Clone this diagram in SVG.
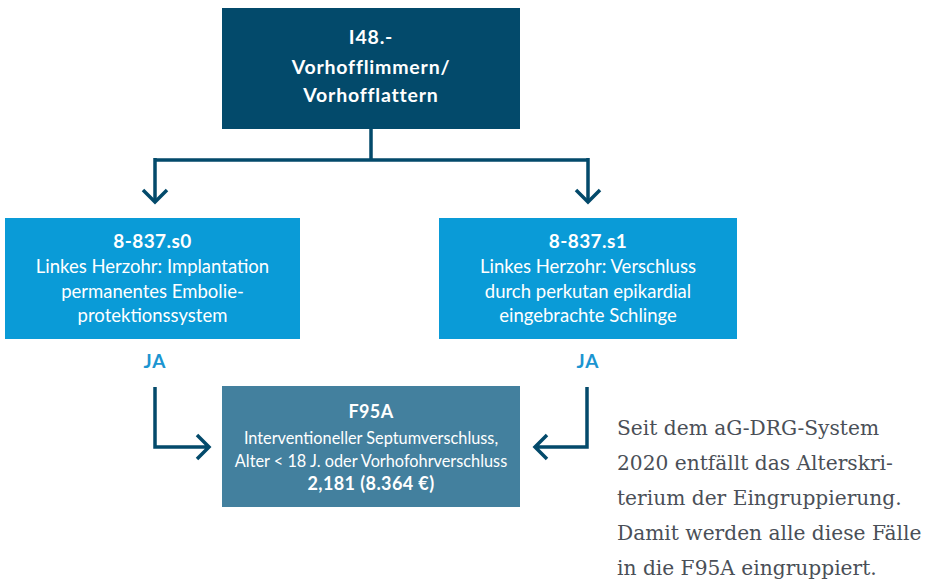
<svg xmlns="http://www.w3.org/2000/svg" width="929" height="587" viewBox="0 0 929 587">
  <style>
    .dark { fill: #034a6b; }
    .mid { fill: #0a9bd7; }
    .res { fill: #43809e; }
    .t { font-family: Lato, "Open Sans", "Liberation Sans", sans-serif; fill: #ffffff; text-anchor: middle; }
    .hb { font-size: 19.5px; font-weight: 700; letter-spacing: 0.8px; }
    .b { font-size: 19px; font-weight: 700; letter-spacing: 0.4px; }
    .r { font-size: 18.5px; font-weight: 400; }
    .sb { font-size: 18px; font-weight: 700; letter-spacing: 0.4px; }
    .s { font-size: 16.3px; font-weight: 400; }
    .ja { font-family: Lato, "Open Sans", "Liberation Sans", sans-serif; font-size: 19px; font-weight: 700; fill: #1b95d1; text-anchor: middle; letter-spacing: 1px; }
    .note { font-family: "DejaVu Serif", "Liberation Serif", serif; font-size: 20.2px; fill: #4a4f57; }
    .line { fill: none; stroke: #034a6b; stroke-width: 3.5; }
  </style>

  <!-- connectors -->
  <g id="connectors">
    <path class="line" d="M371 128 V160 M155 160 H589 M155 158 V202 M588 158 V202"/>
    <path class="line" d="M143 190 L155 202 L167 190 M576 190 L588 202 L600 190"/>
    <path class="line" d="M155 387 V447 H209 M197 435 L209 447 L197 459"/>
    <path class="line" d="M587 387 V447 H535 M547 435 L535 447 L547 459"/>
    <text class="ja" x="155" y="368">JA</text>
    <text class="ja" x="588" y="368">JA</text>
  </g>

  <!-- root: I48.- -->
  <g id="node-i48">
    <rect class="dark" x="222" y="8" width="298" height="121"/>
    <text class="t hb" x="371" y="44">I48.-</text>
    <text class="t hb" x="371" y="74">Vorhofflimmern/</text>
    <text class="t hb" x="371" y="102">Vorhofflattern</text>
  </g>

  <!-- 8-837.s0 -->
  <g id="node-s0">
    <rect class="mid" x="5" y="218" width="295" height="121"/>
    <text class="t b" x="152.5" y="248">8-837.s0</text>
    <text class="t r" x="152.5" y="273">Linkes Herzohr: Implantation</text>
    <text class="t r" x="152.5" y="298">permanentes Embolie-</text>
    <text class="t r" x="152.5" y="322">protektionssystem</text>
  </g>

  <!-- 8-837.s1 -->
  <g id="node-s1">
    <rect class="mid" x="439" y="218" width="298" height="121"/>
    <text class="t b" x="588" y="248">8-837.s1</text>
    <text class="t r" x="588" y="273">Linkes Herzohr: Verschluss</text>
    <text class="t r" x="588" y="298">durch perkutan epikardial</text>
    <text class="t r" x="588" y="322">eingebrachte Schlinge</text>
  </g>

  <!-- F95A -->
  <g id="node-f95a">
    <rect class="res" x="222" y="386" width="298" height="121"/>
    <text class="t sb" x="371" y="418">F95A</text>
    <text class="t s" x="371" y="444">Interventioneller Septumverschluss,</text>
    <text class="t s" x="371" y="467">Alter &lt; 18 J. oder Vorhofohrverschluss</text>
    <text class="t sb" x="371" y="490">2,181 (8.364 €)</text>
  </g>

  <!-- side note -->
  <g id="note">
    <text class="note" x="617" y="435">Seit dem aG-DRG-System</text>
    <text class="note" x="617" y="470">2020 entfällt das Alterskri-</text>
    <text class="note" x="617" y="505">terium der Eingruppierung.</text>
    <text class="note" x="617" y="540">Damit werden alle diese Fälle</text>
    <text class="note" x="617" y="575">in die F95A eingruppiert.</text>
  </g>
</svg>
